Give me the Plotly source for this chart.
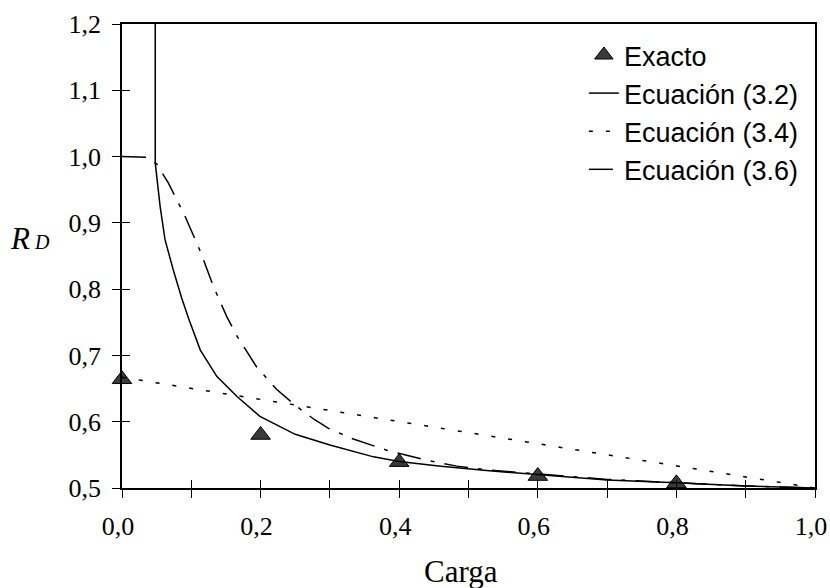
import plotly.graph_objects as go

# ---------------- data ----------------
carga_exacto = [0.0, 0.2, 0.4, 0.6, 0.8]
rd_exacto = [0.664, 0.580, 0.539, 0.518, 0.507]

carga_eq32 = [0.048, 0.048, 0.055, 0.062, 0.074, 0.086, 0.096, 0.113, 0.137, 0.166,
              0.199, 0.25, 0.30, 0.363, 0.40, 0.46, 0.53, 0.60, 0.70, 0.80, 0.90, 1.0]
rd_eq32 = [1.22, 0.99, 0.925, 0.875, 0.829, 0.787, 0.756, 0.708, 0.668, 0.638,
           0.608, 0.581, 0.565, 0.547, 0.540, 0.533, 0.526, 0.520, 0.512, 0.508, 0.503, 0.500]

carga_eq34 = [0.0, 1.0]
rd_eq34 = [0.667, 0.500]

carga_eq36 = [0.0, 0.035, 0.05, 0.067, 0.079, 0.091, 0.113, 0.122, 0.132, 0.151, 0.166,
              0.180, 0.194, 0.223, 0.252, 0.278, 0.298, 0.331, 0.382, 0.435, 0.483,
              0.531, 0.60, 0.70, 0.80, 0.90, 1.0]
rd_eq36 = [1.0, 0.999, 0.989, 0.960, 0.935, 0.910, 0.857, 0.832, 0.804, 0.759, 0.729,
           0.706, 0.683, 0.649, 0.623, 0.603, 0.590, 0.575, 0.557, 0.543, 0.533,
           0.527, 0.521, 0.513, 0.508, 0.503, 0.500]

x_range = [0.0, 1.0]
y_range = [0.5, 1.2]

serif = "Liberation Serif, Times New Roman, serif"
sans = "Liberation Sans, Arial, sans-serif"

fig = go.Figure()

fig.add_trace(go.Scatter(
    x=carga_exacto, y=rd_exacto, mode="markers", name="Exacto",
    marker=dict(symbol="triangle-up", size=17, color="#3a3a3a",
                line=dict(color="black", width=1)),
    cliponaxis=False, legendgroup="a"))

fig.add_trace(go.Scatter(
    x=carga_eq32, y=rd_eq32, mode="lines", name="Ecuación (3.2)",
    line=dict(color="black", width=1.5), legendgroup="b"))

fig.add_trace(go.Scatter(
    x=carga_eq34, y=rd_eq34, mode="lines", name="Ecuación (3.4)",
    line=dict(color="black", width=1.5, dash="4px,13px"), legendgroup="c"))

fig.add_trace(go.Scatter(
    x=carga_eq36, y=rd_eq36, mode="lines", name="Ecuación (3.6)",
    line=dict(color="black", width=1.5, dash="24px,10px,4px,10px"), legendgroup="d"))

# overlay axes only for the inner half of the crossing ticks
fig.add_trace(go.Scatter(x=[None], y=[None], xaxis="x2", yaxis="y2",
                         showlegend=False, hoverinfo="skip"))

tickfont = dict(family=serif, size=26, color="black")

fig.update_layout(
    width=830, height=588,
    margin=dict(l=122, r=15, t=24, b=100, autoexpand=False),
    paper_bgcolor="white", plot_bgcolor="white",
    separators=",.",
    showlegend=True,
    legend=dict(x=0.6665, y=0.985, xanchor="left", yanchor="top",
                font=dict(family=sans, size=27, color="black"),
                bgcolor="rgba(255,255,255,0)", borderwidth=0,
                traceorder="grouped", tracegroupgap=0),
    xaxis=dict(range=x_range, dtick=0.2, tick0=0, tickformat=".1f",
               ticks="outside", ticklen=8, tickwidth=1.3, tickcolor="black",
               minor=dict(dtick=0.1, ticks="outside", ticklen=8, tickwidth=1.3,
                          tickcolor="black", showgrid=False),
               showline=True, linecolor="black", linewidth=1.5, mirror=True,
               showgrid=False, zeroline=False, tickfont=tickfont,
               ticklabelstandoff=6, ticklabelshift=-4,
               ticklabeloverflow="allow", automargin=False),
    yaxis=dict(range=y_range, dtick=0.1, tick0=0.5, tickformat=".1f",
               ticks="outside", ticklen=8, tickwidth=1.3, tickcolor="black",
               showline=True, linecolor="black", linewidth=1.5, mirror=True,
               showgrid=False, zeroline=False, tickfont=tickfont,
               ticklabelstandoff=6, ticklabeloverflow="allow", automargin=False),
    xaxis2=dict(range=x_range, overlaying="x", anchor="y2", side="bottom",
                dtick=0.1, tick0=0, ticks="inside", ticklen=8, tickwidth=1.3,
                tickcolor="black", showticklabels=False, showline=False,
                showgrid=False, zeroline=False, automargin=False),
    yaxis2=dict(range=y_range, overlaying="y", anchor="x2", side="left",
                dtick=0.1, tick0=0.5, ticks="inside", ticklen=8, tickwidth=1.3,
                tickcolor="black", showticklabels=False, showline=False,
                showgrid=False, zeroline=False, automargin=False),
)

fig.add_annotation(text="Carga", xref="paper", yref="paper",
                   x=0.489, y=-0.179, xanchor="center", yanchor="middle",
                   showarrow=False, font=dict(family=serif, size=31, color="black"))

fig.add_annotation(text="<i>R</i><i><span style='font-size:20px'> D</span></i>",
                   xref="paper", yref="paper", x=-0.164, y=0.537,
                   xanchor="left", yanchor="middle", showarrow=False,
                   font=dict(family=serif, size=31, color="black"))

# remove the browser's default 8px body margin so the 830x588 figure fills the window
fig.write_html("out.html",
               config={"displayModeBar": False},
               post_script="document.body.style.margin='0';"
                           "document.body.style.overflow='hidden';")
